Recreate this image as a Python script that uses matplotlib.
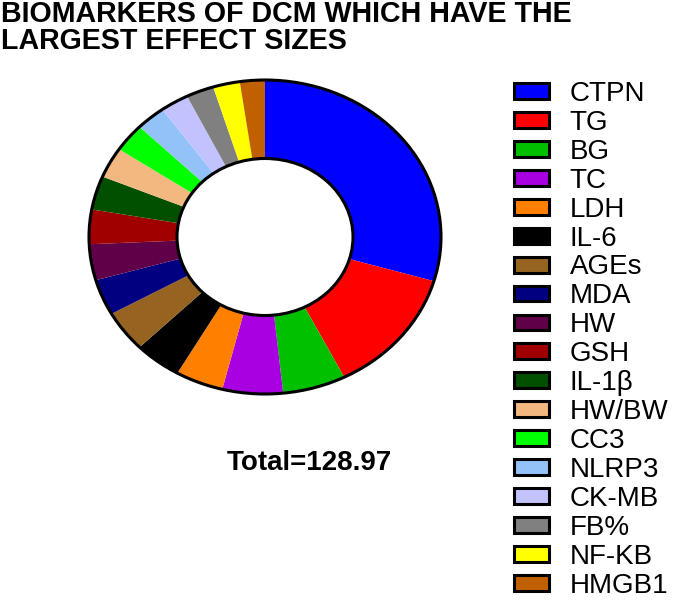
import matplotlib
matplotlib.use("Agg")
import matplotlib.pyplot as plt
from matplotlib.patches import Patch, Circle

# ------------------------------------------------------------
# Data (effect sizes read off the donut)
# ------------------------------------------------------------
markers = ["CTPN", "TG", "BG", "TC", "LDH", "IL-6", "AGEs", "MDA", "HW",
           "GSH", "IL-1β", "HW/BW", "CC3", "NLRP3", "CK-MB", "FB%",
           "NF-KB", "HMGB1"]
effect_sizes = [38.3, 16.9, 7.5, 7.2, 5.7, 5.6, 5.5, 4.8, 4.8,
                4.6, 4.5, 4.1, 3.8, 3.5, 3.4, 3.3, 3.2, 2.97]
colors = ["#0000FF", "#FF0000", "#00C000", "#A800E0", "#FF8000", "#000000",
          "#966420", "#000080", "#600048", "#A00000", "#005000", "#F2B880",
          "#00FF00", "#92C2F8", "#C2C2FF", "#808080", "#FFFF00", "#C06000"]
total_label = "Total=128.97"

plt.rcParams["font.family"] = ["Liberation Sans", "DejaVu Sans"]

W, H = 679, 605
fig = plt.figure(figsize=(W / 100, H / 100), dpi=100)

# donut axes: centre (265, 237) px, radii 176 x 157 px (stretched)
cx, cy, rx, ry = 265, 237, 176, 157
ax = fig.add_axes([(cx - rx) / W, (H - cy - ry) / H, 2 * rx / W, 2 * ry / H])

ax.pie(effect_sizes, colors=colors, startangle=90, counterclock=False,
       radius=1.0, wedgeprops=dict(width=0.5, linewidth=0))
ax.set_aspect("auto")
ax.set_xlim(-1, 1)
ax.set_ylim(-1, 1)
ax.axis("off")

# outlines only on the outer and inner edges
for r in (1.0, 0.5):
    ax.add_patch(Circle((0, 0), r, fill=False, ec="black", lw=2.2,
                        clip_on=False))

# title
fig.text(1 / W, 1 - 0.5 / H, "BIOMARKERS OF DCM WHICH HAVE THE\nLARGEST EFFECT SIZES",
         ha="left", va="top", fontsize=20.6, fontweight="bold",
         linespacing=0.92)

# total text
fig.text(309 / W, 1 - 463 / H, total_label, ha="center", va="center",
         fontsize=20, fontweight="bold")

# legend
handles = [Patch(facecolor=c, edgecolor="black", linewidth=2.2) for c in colors]
fig.legend(handles, markers, loc="upper left",
           bbox_to_anchor=(514 / W, 1 - 81 / H), frameon=False,
           fontsize=20, handlelength=1.26, handleheight=0.5,
           handletextpad=0.75, labelspacing=0.105, borderpad=0,
           borderaxespad=0)

fig.savefig("out.png", dpi=100)
